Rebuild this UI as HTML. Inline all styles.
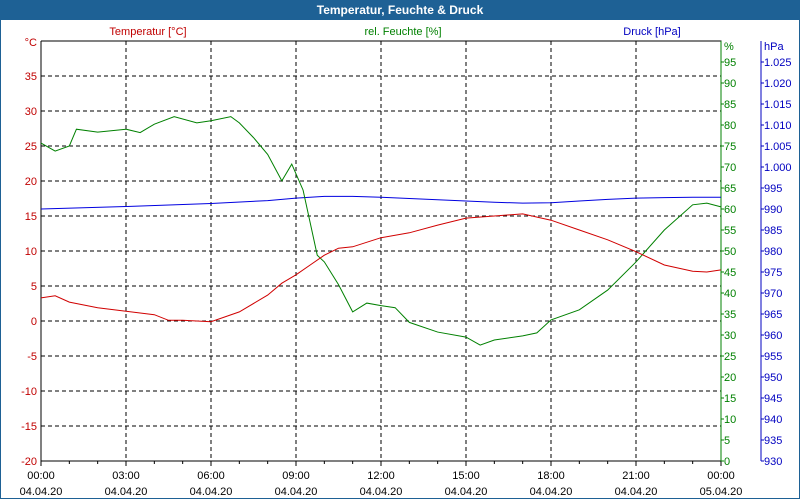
<!DOCTYPE html>
<html><head><meta charset="utf-8"><style>
body{margin:0;width:800px;height:500px;overflow:hidden;background:#fff;font-family:"Liberation Sans",sans-serif}
#wrap{position:absolute;left:0;top:0;width:798px;height:498px;border:1px solid #1e6195;border-top:none;background:#fff}
#title{position:absolute;left:0;top:0;width:800px;height:20px;background:#1e6195;color:#fff;font-weight:bold;font-size:12px;text-align:center;line-height:20px}
svg{position:absolute;left:0;top:0}
text{font-family:"Liberation Sans",sans-serif;font-size:11px}
</style></head><body>
<div id="wrap"></div>
<div id="title">Temperatur, Feuchte &amp; Druck</div>
<svg id="c" width="800" height="500"></svg>
<script>
const tempTimes=[0,0.5,1,2,3,4,4.5,5,6,7,8,8.5,9,9.5,10,10.5,11,12,13,14,15,16,17,18,19,20,21,22,23,23.5,24];
const tempVals=[3.3,3.6,2.7,1.9,1.4,0.9,0.1,0.1,-0.1,1.3,3.7,5.4,6.6,8,9.4,10.4,10.6,11.9,12.6,13.7,14.7,15,15.3,14.4,13,11.6,9.9,8,7.1,7,7.3];
const humTimes=[0,0.5,1,1.25,2,3,3.5,4,4.7,5.5,6,6.7,7,7.5,8,8.5,8.85,9.25,9.75,10,10.5,11,11.5,12,12.5,13,14,15,15.5,16,17,17.5,18,19,20,21,22,23,23.5,24];
const humVals=[75.7,73.8,75,79,78.3,79,78.2,80.2,82,80.5,81,82,80.5,77,73,66.7,70.7,64.5,49,47.4,42,35.5,37.6,37,36.5,33,30.7,29.5,27.6,28.8,29.8,30.5,33.6,36,40.7,47.4,55,61,61.4,60.5];
const presTimes=[0,3,6,8,9,10,11,12,14,15,16,17,18,19,20,21,22,23,24];
const presVals=[990,990.6,991.3,992,992.6,993,993,992.8,992.2,991.9,991.6,991.4,991.5,991.9,992.3,992.6,992.7,992.8,992.8];
const tempTicks=[-20,-15,-10,-5,0,5,10,15,20,25,30,35];
const humTicks=[0,5,10,15,20,25,30,35,40,45,50,55,60,65,70,75,80,85,90,95];
const presTicks=[930,935,940,945,950,955,960,965,970,975,980,985,990,995,1000,1005,1010,1015,1020,1025];
const timeLabels=["00:00","03:00","06:00","09:00","12:00","15:00","18:00","21:00","00:00"];
const dateLabels=["04.04.20","04.04.20","04.04.20","04.04.20","04.04.20","04.04.20","04.04.20","04.04.20","05.04.20"];
const L=41,R=721,T=41,B=461;
const xS=h=>L+h*(R-L)/24, yT=v=>B-(v+20)*(B-T)/60, yH=v=>B-v*(B-T)/100, yP=v=>B-(v-930)*(B-T)/100;
const svg=document.getElementById('c');const NS='http://www.w3.org/2000/svg';
function mk(tag,a,txt){const e=document.createElementNS(NS,tag);for(const k in a)e.setAttribute(k,a[k]);if(txt!=null)e.textContent=txt;svg.appendChild(e);return e;}
let e;
for(const v of tempTicks){if(v>-20){e=mk('line',{x1:L,x2:R,y1:yT(v),y2:yT(v),stroke:'#000','stroke-dasharray':'4,3'});}
e=mk('text',{x:37,y:yT(v)+4,'text-anchor':'end',fill:'#c00000'},v);}
for(let i=1;i<8;i++){e=mk('line',{x1:xS(i*3),x2:xS(i*3),y1:T,y2:B,stroke:'#000','stroke-dasharray':'4,3'});}
for(let h=0;h<=24;h++){e=mk('line',{x1:xS(h),x2:xS(h),y1:B,y2:B+(h%3?3:5),stroke:'#000'});}
timeLabels.forEach((t,i)=>{e=mk('text',{x:xS(i*3),y:479,'text-anchor':'middle',fill:'#000'},t);
e=mk('text',{x:xS(i*3),y:495,'text-anchor':'middle',fill:'#000'},dateLabels[i]);});
e=mk('text',{x:37,y:T+5,'text-anchor':'end',fill:'#c00000'},'°C');
// frame
e=mk('polyline',{points:`${L},${T} ${L},${B} ${R},${B} ${R},${T} ${L},${T}`,fill:'none',stroke:'#000'});
e=mk('line',{x1:R,x2:R,y1:T,y2:B,stroke:'#008000'});
for(const v of humTicks){mk('line',{x1:R,x2:R+3,y1:yH(v),y2:yH(v),stroke:'#008000'});
e=mk('text',{x:R+3,y:yH(v)+4,fill:'#008000'},v);}
e=mk('text',{x:R+3,y:T+9,fill:'#008000'},'%');
e=mk('line',{x1:761,x2:761,y1:T,y2:B,stroke:'#0000c0'});
for(const v of presTicks){mk('line',{x1:761,x2:764,y1:yP(v),y2:yP(v),stroke:'#0000c0'});
e=mk('text',{x:764,y:yP(v)+4,fill:'#0000c0'},v>=1000?('1.'+String(v).slice(1)):v);}
e=mk('text',{x:764,y:T+9,fill:'#0000c0'},'hPa');
e=mk('text',{x:148,y:35,'text-anchor':'middle',fill:'#c00000'},'Temperatur [°C]');
e=mk('text',{x:403,y:35,'text-anchor':'middle',fill:'#008000'},'rel. Feuchte [%]');
e=mk('text',{x:652,y:35,'text-anchor':'middle',fill:'#0000c0'},'Druck [hPa]');
function line(ts,vs,yf,col,name){e=mk('polyline',{points:ts.map((t,i)=>xS(t)+','+yf(vs[i])).join(' '),fill:'none',stroke:col,'stroke-width':1});}
line(presTimes,presVals,yP,'#0000e0','pressure-line');
line(humTimes,humVals,yH,'#008000','humidity-line');
line(tempTimes,tempVals,yT,'#d00000','temperature-line');
</script>
</body></html>
